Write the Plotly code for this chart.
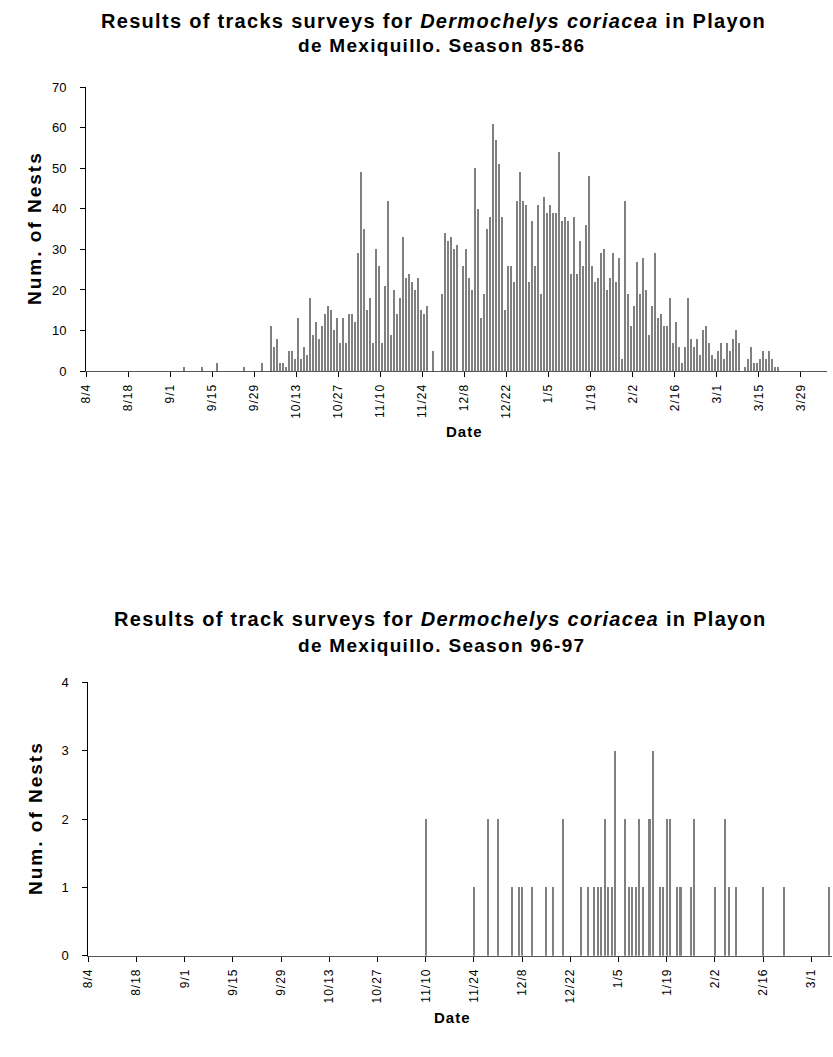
import plotly.graph_objects as go

# ---------------- data ----------------
# Season 85-86: day offsets counted from 8/4
s85_early_days = [32, 38, 43, 52, 58]
s85_early_nests = [1, 1, 2, 1, 2]
s85_first_day = 61
s85_daily_nests = [
    11, 6, 8, 2, 2, 1, 5, 5, 3, 13,
    3, 6, 4, 18, 9, 12, 8, 11, 14, 16,
    15, 10, 13, 7, 13, 7, 14, 14, 12, 29,
    49, 35, 15, 18, 7, 30, 26, 7, 21, 42,
    9, 20, 14, 18, 33, 23, 24, 22, 20, 23,
    15, 14, 16, 0, 5, 0, 0, 19, 34, 32,
    33, 30, 31, 0, 26, 30, 23, 20, 50, 40,
    13, 19, 35, 38, 61, 57, 51, 38, 15, 26,
    26, 22, 42, 49, 42, 41, 22, 37, 26, 41,
    19, 43, 39, 41, 39, 39, 54, 37, 38, 37,
    24, 38, 24, 32, 26, 36, 48, 26, 22, 23,
    29, 30, 20, 23, 29, 22, 28, 3, 42, 19,
    11, 16, 27, 19, 28, 20, 9, 16, 29, 13,
    14, 11, 11, 18, 7, 12, 6, 2, 6, 18,
    8, 6, 8, 4, 10, 11, 7, 4, 3, 5,
    7, 3, 7, 5, 8, 10, 7, 0, 1, 3,
    6, 2, 2, 3, 5, 3, 5, 3, 1, 1,
]
s85_tick_days = [0, 14, 28, 42, 56, 70, 84, 98, 112, 126, 140, 154, 168, 182, 196, 210, 224, 238]
s85_tick_labels = ["8/4", "8/18", "9/1", "9/15", "9/29", "10/13", "10/27", "11/10", "11/24",
                   "12/8", "12/22", "1/5", "1/19", "2/2", "2/16", "3/1", "3/15", "3/29"]

# Season 96-97: day offsets counted from 8/4
s96_days = [98, 112, 116, 119, 123, 125, 126, 129, 133, 135,
            138, 143, 145, 147, 148, 149, 150, 151, 152, 153,
            156, 157, 158, 159, 160, 161, 163, 164, 166, 167,
            168, 169, 171, 172, 175, 176, 182, 185, 186, 188,
            196, 202, 215]
s96_nests = [2, 1, 2, 2, 1, 1, 1, 1, 1, 1,
             2, 1, 1, 1, 1, 1, 2, 1, 1, 3,
             2, 1, 1, 1, 2, 1, 2, 3, 1, 1,
             2, 2, 1, 1, 1, 2, 1, 2, 1, 1,
             1, 1, 1]
s96_tick_days = [0, 14, 28, 42, 56, 70, 84, 98, 112, 126, 140, 154, 168, 182, 196, 210]
s96_tick_labels = ["8/4", "8/18", "9/1", "9/15", "9/29", "10/13", "10/27", "11/10", "11/24",
                   "12/8", "12/22", "1/5", "1/19", "2/2", "2/16", "3/1"]

# ---------------- figure ----------------
W, H = 833, 1057
FONT = "Liberation Sans, Arial, sans-serif"
BAR = "#808080"

s85_days = s85_early_days + [s85_first_day + k for k in range(len(s85_daily_nests))]
s85_nests = s85_early_nests + s85_daily_nests


def spaced(t, sp):
    return '<span style="letter-spacing:%gpx">%s</span>' % (sp, t)


fig = go.Figure()
fig.add_trace(go.Bar(x=[d + 0.5 for d in s85_days], y=s85_nests, width=0.68,
                     marker=dict(color=BAR, line=dict(width=0)),
                     xaxis="x", yaxis="y", showlegend=False))
fig.add_trace(go.Bar(x=s96_days, y=s96_nests, width=0.6,
                     marker=dict(color=BAR, line=dict(width=0)),
                     xaxis="x2", yaxis="y2", showlegend=False))


def px_x(v):
    return v / W


def px_y(v):
    return 1 - v / H


common_x = dict(showgrid=False, zeroline=False, showline=True, linecolor="#555555", linewidth=1,
                ticks="outside", ticklen=5, tickcolor="#000000", tickwidth=1, tickangle=-90,
                automargin=False, ticklabelstandoff=2,
                tickfont=dict(family=FONT, size=12, color="#000000"), fixedrange=True)
common_y = dict(showgrid=False, zeroline=False, showline=True, linecolor="#000000", linewidth=1,
                ticks="outside", ticklen=5, tickcolor="#000000", tickwidth=1,
                automargin=False, ticklabelstandoff=11,
                tickfont=dict(family=FONT, size=13, color="#000000"), fixedrange=True)

fig.update_layout(
    template="none",
    width=W, height=H,
    margin=dict(l=0, r=0, t=0, b=0, pad=0),
    paper_bgcolor="white", plot_bgcolor="white",
    bargap=0,
    xaxis=dict(common_x, domain=[px_x(86), px_x(826.7)], range=[0, 246.6],
               tickmode="array", tickvals=s85_tick_days,
               ticktext=[spaced(t, 1) for t in s85_tick_labels], anchor="y"),
    yaxis=dict(common_y, domain=[px_y(371), px_y(87.3)], range=[0, 70], dtick=10, anchor="x"),
    xaxis2=dict(common_x, domain=[px_x(88.3), px_x(832)], range=[0, 216],
                tickmode="array", tickvals=s96_tick_days,
                ticktext=[spaced(t, 1) for t in s96_tick_labels], anchor="y2"),
    yaxis2=dict(common_y, domain=[px_y(955.7), px_y(682.3)], range=[0, 4], dtick=1, anchor="x2"),
)


def note(text, x, y, size, angle=0):
    fig.add_annotation(text=text, xref="paper", yref="paper", x=px_x(x), y=px_y(y),
                       xanchor="center", yanchor="middle", showarrow=False, textangle=angle,
                       font=dict(family=FONT, size=size, color="#000000"))


TS = 1.3
note(spaced("<b>Results of tracks surveys for <i>Dermochelys coriacea</i> in Playon</b>", TS), 433, 21, 20)
note(spaced("<b>de Mexiquillo. Season 85-86</b>", TS), 441, 46, 19)
note(spaced("<b>Results of track surveys for <i>Dermochelys coriacea</i> in Playon</b>", TS), 440, 619, 20)
note(spaced("<b>de Mexiquillo. Season 96-97</b>", TS), 441, 645, 19)
note(spaced("<b>Num. of Nests</b>", 2), 35, 228, 19, -90)
note(spaced("<b>Num. of Nests</b>", 2), 35, 818, 19, -90)
note(spaced("<b>Date</b>", 1), 464, 432, 15)
note(spaced("<b>Date</b>", 1), 452, 1017, 15)

fig.write_html("out.html", config={"displayModeBar": False, "staticPlot": True},
               post_script="document.body.style.margin='0px';")
